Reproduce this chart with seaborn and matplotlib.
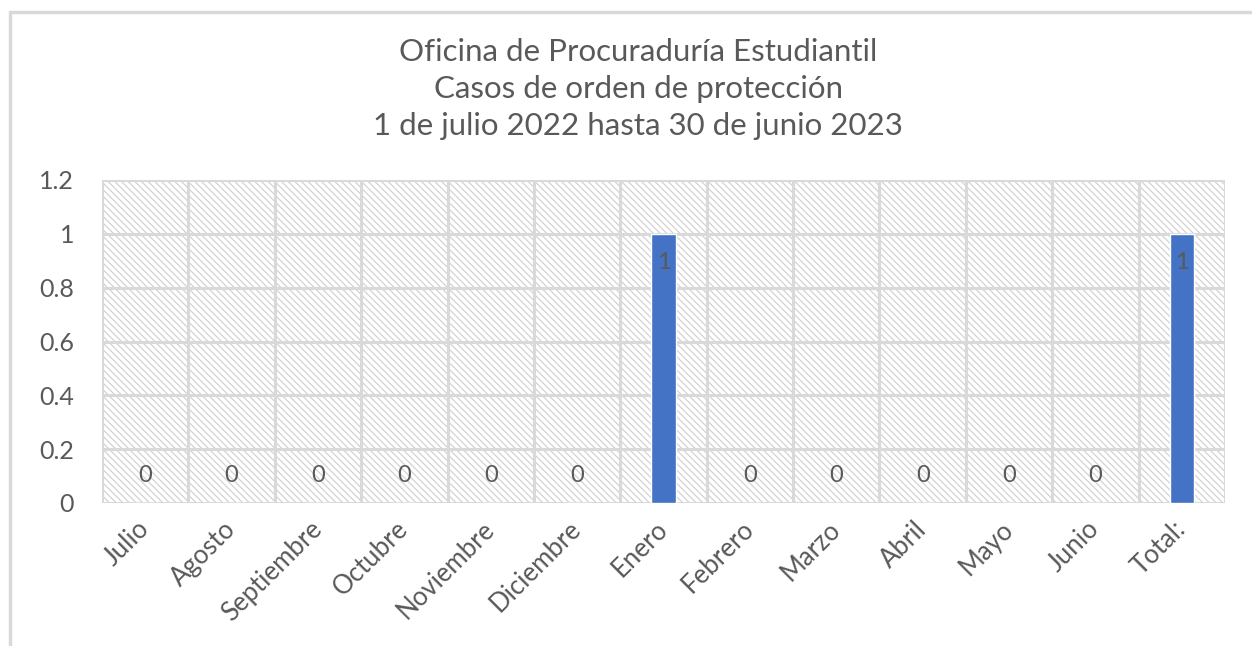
import matplotlib
matplotlib.use("Agg")
import matplotlib.pyplot as plt
from matplotlib.lines import Line2D
from matplotlib.patches import Rectangle
from matplotlib.ticker import FuncFormatter, MultipleLocator, FixedLocator
import seaborn as sns
import pandas as pd
import numpy as np

# Data
meses = ["Julio", "Agosto", "Septiembre", "Octubre", "Noviembre", "Diciembre",
         "Enero", "Febrero", "Marzo", "Abril", "Mayo", "Junio", "Total:"]
casos = [0, 0, 0, 0, 0, 0, 1, 0, 0, 0, 0, 0, 1]
titulo = ["Oficina de Procuraduría Estudiantil",
          "Casos de orden de protección",
          "1 de julio 2022 hasta 30 de junio 2023"]

GRAY_TEXT = "#595959"
GRID = "#d9d9d9"
BAR = "#4472c4"

sns.set_theme(style="white")
plt.rcParams["font.family"] = ["Lato", "DejaVu Sans"]
plt.rcParams["hatch.linewidth"] = 0.9

df = pd.DataFrame({"mes": meses, "casos": casos})

fig = plt.figure(figsize=(12.52, 6.46), dpi=100)
ax = fig.add_axes([102 / 1252, 1 - 503 / 646, 1123 / 1252, 323 / 646])

# hatched plot-area background
ax.add_patch(Rectangle((0, 0), 1, 1, transform=ax.transAxes, facecolor="white",
                       edgecolor="#d3d3d3", hatch="\\\\\\\\\\", linewidth=0, zorder=0))

sns.barplot(data=df, x="mes", y="casos", color=BAR, width=0.28,
            saturation=1, ax=ax, zorder=3)

ax.set_ylim(0, 1.2)
ax.set_xlim(-0.5, len(meses) - 0.5)
ax.yaxis.set_major_locator(MultipleLocator(0.2))
ax.yaxis.set_major_formatter(FuncFormatter(lambda v, p: f"{v:g}"))
ax.xaxis.set_minor_locator(FixedLocator(np.arange(-0.5, len(meses), 1.0)))

ax.grid(axis="y", which="major", color=GRID, linewidth=2.2, zorder=1)
ax.grid(axis="x", which="minor", color=GRID, linewidth=2.2, zorder=1)
ax.grid(axis="x", which="major", visible=False)
ax.set_axisbelow(True)
for s in ax.spines.values():
    s.set_visible(False)

ax.set_xlabel("")
ax.set_ylabel("")
ax.tick_params(axis="y", length=0, labelsize=18, labelcolor=GRAY_TEXT, pad=20)
ax.tick_params(axis="x", which="both", length=0, labelsize=18.5,
               labelcolor=GRAY_TEXT, pad=16)
plt.setp(ax.get_xticklabels(), rotation=45, ha="right", va="center",
         rotation_mode="anchor")

# data labels, Excel "inside end" style
for i, v in enumerate(casos):
    off = -29 if v > 0 else 28
    ax.annotate(str(v), (i, v), xytext=(0, off), textcoords="offset pixels",
                ha="center", va="center", fontsize=17, color=GRAY_TEXT, zorder=5)

fig.text(638 / 1252, 1 - 89 / 646, "\n".join(titulo), ha="center", va="center",
         fontsize=22.5, color=GRAY_TEXT, linespacing=1.38)

# chart frame (cropped: only top and left edges visible)
fig.add_artist(Line2D([10 / 1252, 1], [1 - 12 / 646] * 2, color=GRID, linewidth=2.5))
fig.add_artist(Line2D([10 / 1252] * 2, [0, 1 - 12 / 646], color=GRID, linewidth=2.5))

fig.savefig("out.png", dpi=100)
